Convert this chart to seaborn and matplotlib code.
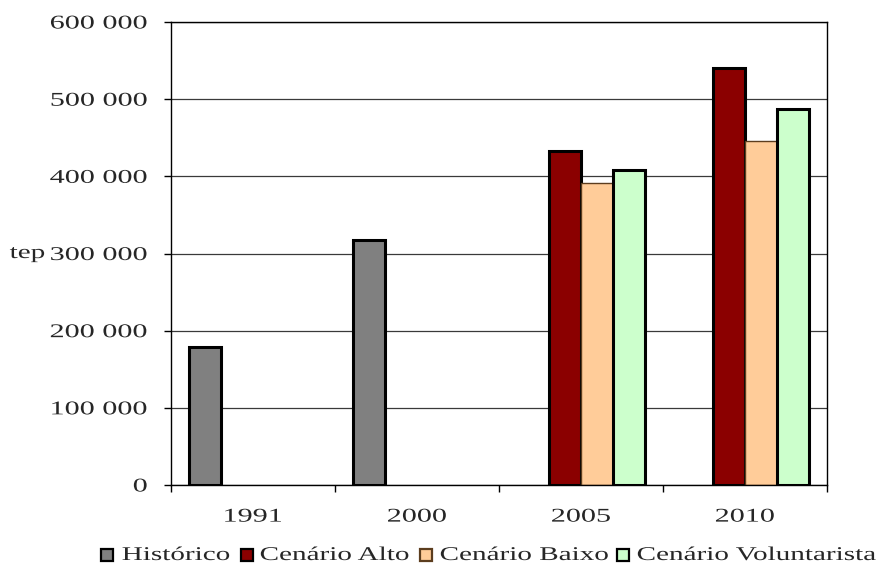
import matplotlib
matplotlib.use("Agg")
import pandas as pd
import seaborn as sns
import matplotlib.pyplot as plt
from matplotlib.patches import Rectangle
from matplotlib.patheffects import AbstractPathEffect
from matplotlib.transforms import Affine2D
from matplotlib.colors import to_hex

# --- data -------------------------------------------------------------
anos = ["1991", "2000", "2005", "2010"]
series = ["Histórico", "Cenário Alto", "Cenário Baixo", "Cenário Voluntarista"]
historico = [179000, 318000, None, None]
cenario_alto = [None, None, 433000, 540000]
cenario_baixo = [None, None, 392000, 446000]
cenario_voluntarista = [None, None, 408000, 487000]
y_ticks = [0, 100000, 200000, 300000, 400000, 500000, 600000]
y_label = "tep"

# --- styling ----------------------------------------------------------
cores = ["#808080", "#8B0000", "#FFCC99", "#CCFFCC"]
bordas = ["#000000", "#000000", "#5c3d1e", "#000000"]
espessura = [2.2, 2.2, 1.0, 2.2]
FONTE = 14
ESTICA_NUM = 1.55   # horizontal widening of the numerals
ESTICA_TXT = 1.5    # horizontal widening of the words


class Widen(AbstractPathEffect):
    """Draw text glyphs widened horizontally about a chosen anchor."""

    def __init__(self, sx, anchor="left"):
        super().__init__()
        self.sx = sx
        self.anchor = anchor

    def draw_path(self, renderer, gc, tpath, affine, rgbFace=None):
        ext = tpath.get_extents()
        if self.anchor == "right":
            x0 = ext.x1
        elif self.anchor == "center":
            x0 = 0.5 * (ext.x0 + ext.x1)
        else:
            x0 = ext.x0
        pre = Affine2D().translate(-x0, 0).scale(self.sx, 1.0).translate(x0, 0)
        renderer.draw_path(gc, tpath, pre + affine, rgbFace)


sns.set_style("white")
plt.rcParams["font.family"] = ["Liberation Serif", "DejaVu Serif"]
plt.rcParams["font.size"] = FONTE

valores = [historico, cenario_alto, cenario_baixo, cenario_voluntarista]
linhas = []
for nome, vals in zip(series, valores):
    for ano, v in zip(anos, vals):
        if v is not None:
            linhas.append({"ano": ano, "serie": nome, "valor": v})
df = pd.DataFrame(linhas)

W, H = 878, 572
fig = plt.figure(figsize=(W / 100, H / 100), dpi=100)
ax = fig.add_axes([171 / W, (H - 485) / H, (827 - 171) / W, (485 - 22) / H])

sns.barplot(
    data=df, x="ano", y="valor", hue="serie",
    order=anos, hue_order=series, palette=cores,
    width=0.78, saturation=1, errorbar=None, legend=False, ax=ax,
)

# bar outlines per series
estilo = {to_hex(c): (b, e) for c, b, e in zip(cores, bordas, espessura)}
for p in ax.patches:
    chave = to_hex(p.get_facecolor()[:3])
    if chave in estilo:
        b, e = estilo[chave]
        p.set_edgecolor(b)
        p.set_linewidth(e)
        p.set_joinstyle("miter")

# axes limits, grid and frame
ax.set_xlim(-0.5, len(anos) - 0.5)
ax.set_ylim(y_ticks[0], y_ticks[-1])
ax.set_axisbelow(True)
ax.grid(axis="y", color="#3a3a3a", linewidth=0.9)
ax.grid(axis="x", visible=False)
for s in ax.spines.values():
    s.set_visible(True)
    s.set_color("#000000")
    s.set_linewidth(1.0)

ax.set_yticks(y_ticks, [f"{v:,}".replace(",", " ") for v in y_ticks])
ax.tick_params(axis="y", left=True, direction="out", length=5, width=1,
               color="#000000", pad=12, labelsize=FONTE)
ax.set_xticks(range(len(anos)), anos)
ax.set_xticks([i - 0.5 for i in range(len(anos) + 1)], minor=True)
ax.tick_params(axis="x", which="major", bottom=True, length=0, pad=17, labelsize=FONTE)
ax.tick_params(axis="x", which="minor", bottom=True, direction="out",
               length=5, width=1, color="#000000")

ax.set_xlabel("")
ax.set_ylabel(y_label, rotation=0, ha="right", va="center", fontsize=FONTE)
ax.yaxis.set_label_coords((45 - 171) / (827 - 171), 0.5)
ax.yaxis.label.set_path_effects([Widen(ESTICA_TXT, "right")])

for t in ax.get_yticklabels():
    t.set_path_effects([Widen(ESTICA_NUM, "right")])
for t in ax.get_xticklabels():
    t.set_path_effects([Widen(ESTICA_NUM, "center")])

# legend row under the plot
marc_x = [101, 241, 420, 617]
text_x = [122, 260, 440, 637]
base_y = 560
for nome, cor, borda, mx, tx in zip(series, cores, bordas, marc_x, text_x):
    fig.add_artist(Rectangle(
        (mx / W, (H - base_y - 1) / H), 12 / W, 12 / H, transform=fig.transFigure,
        facecolor=cor, edgecolor=borda, linewidth=1.6,
    ))
    fig.text(tx / W, (H - base_y) / H, nome, ha="left", va="baseline",
             fontsize=FONTE, path_effects=[Widen(ESTICA_TXT, "left")])

fig.savefig("out.png", dpi=100)
